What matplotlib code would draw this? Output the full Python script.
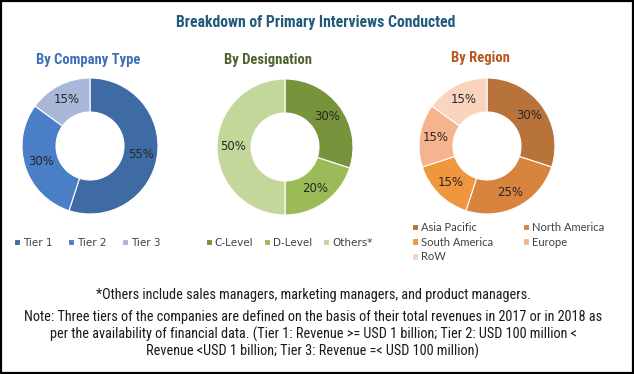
import matplotlib
matplotlib.use("Agg")
import matplotlib.pyplot as plt
import matplotlib.patches as mpatches

# data
company_labels = ["Tier 1", "Tier 2", "Tier 3"]
company_values = [55, 30, 15]
company_colors = ["#3F6BA5", "#4A7EC6", "#A9B8D9"]

designation_labels = ["C-Level", "D-Level", "Others*"]
designation_values = [30, 20, 50]
designation_colors = ["#77933C", "#9BBB59", "#C4D79B"]

region_labels = ["Asia Pacific", "North America", "South America", "Europe", "RoW"]
region_values = [30, 25, 15, 15, 15]
region_colors = ["#B8733A", "#D9843E", "#F0963F", "#F5B48E", "#F9D4BE"]

title = "Breakdown of Primary Interviews Conducted"
footnote = "*Others include sales managers, marketing managers, and product managers."
note_lines = [
    "Note: Three tiers of the companies are defined on the basis of their total revenues in 2017 or in 2018 as",
    "per the availability of financial data. (Tier 1: Revenue >= USD 1 billion; Tier 2: USD 100 million <",
    "Revenue <USD 1 billion; Tier 3: Revenue =< USD 100 million)",
]

narrow = ["Roboto Condensed", "DejaVu Sans"]
plt.rcParams["font.family"] = ["DejaVu Sans"]

W, H = 634, 374
fig = plt.figure(figsize=(W / 100, H / 100), dpi=100)
fig.patches.append(mpatches.Rectangle((0.001, 0.002), 0.997, 0.995, transform=fig.transFigure,
                                      fill=False, edgecolor="black", linewidth=1.6))


def px(x, y):
    return x / W, 1 - y / H


def donut(cx, cy, r, values, colors):
    ax = fig.add_axes([(cx - r) / W, (H - cy - r) / H, 2 * r / W, 2 * r / H])
    wedges, _, autotexts = ax.pie(values, colors=colors, startangle=90, counterclock=False,
                                  autopct=lambda p: f"{p:.0f}%", pctdistance=0.76,
                                  wedgeprops=dict(width=0.5, edgecolor="white", linewidth=0.8),
                                  textprops=dict(fontsize=8.5, color="#262626"))
    ax.set_xlim(-1, 1)
    ax.set_ylim(-1, 1)
    ax.set_aspect("equal")
    return ax, wedges


fig.text(*px(316, 22), title, ha="center", va="center", fontsize=11.3, fontweight="bold",
         color="#215B7C", family=narrow)
fig.text(*px(88, 60), "By Company Type", ha="center", va="center", fontsize=10.5, fontweight="bold",
         color="#3D70B5", family=narrow)
fig.text(*px(268, 60), "By Designation", ha="center", va="center", fontsize=10.5, fontweight="bold",
         color="#4F6228", family=narrow)
fig.text(*px(480, 58), "By Region", ha="center", va="center", fontsize=10.5, fontweight="bold",
         color="#B9561B", family=narrow)

ax1, w1 = donut(90, 146, 68, company_values, company_colors)
ax2, w2 = donut(285, 147, 68, designation_values, designation_colors)
ax3, w3 = donut(487, 146, 68, region_values, region_colors)

leg_kw = dict(frameon=False, fontsize=7.5, handlelength=0.55, handleheight=0.55, handletextpad=0.3,
              borderaxespad=0, borderpad=0, labelcolor="#404040")
fig.legend(w1, company_labels, loc="center left", bbox_to_anchor=px(14, 243), ncol=3,
           columnspacing=1.5, **leg_kw)
fig.legend(w2, designation_labels, loc="center left", bbox_to_anchor=px(206, 243), ncol=3,
           columnspacing=1.05, **leg_kw)

reg_kw = dict(leg_kw, prop={"family": "Lato", "size": 8})
reg_kw.pop("fontsize")
fig.legend([w3[0], w3[2], w3[4]], [region_labels[0], region_labels[2], region_labels[4]],
           loc="upper left", bbox_to_anchor=px(412, 222), labelspacing=0.33, **reg_kw)
fig.legend([w3[1], w3[3]], [region_labels[1], region_labels[3]],
           loc="upper left", bbox_to_anchor=px(523, 222), labelspacing=0.33, **reg_kw)

fig.text(*px(313, 295), footnote, ha="center", va="center", fontsize=10.3, color="#1a1a1a", family=narrow)
for i, line in enumerate(note_lines):
    fig.text(*px(313, 317 + 17 * i), line, ha="center", va="center", fontsize=10.3,
             color="#1a1a1a", family=narrow)

fig.savefig("out.png", dpi=100)
